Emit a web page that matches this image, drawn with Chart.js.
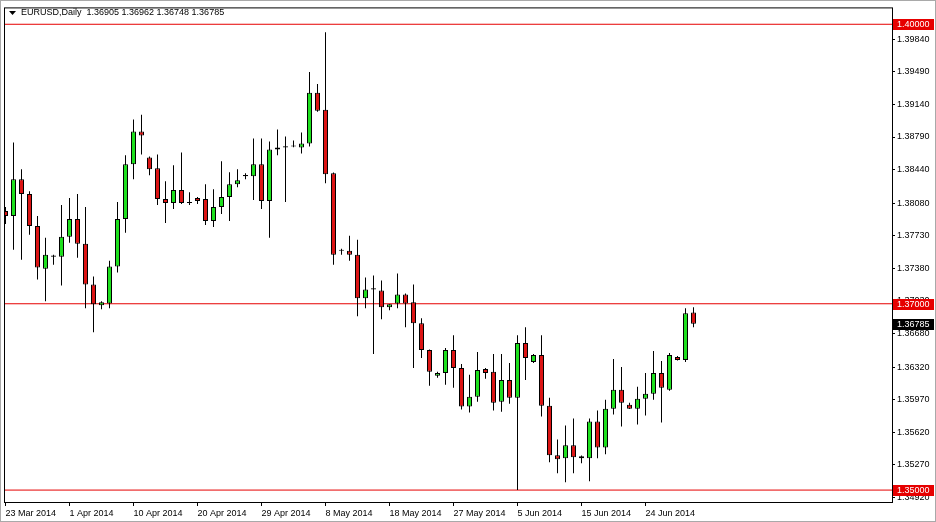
<!DOCTYPE html>
<html>
<head>
<meta charset="utf-8">
<title>EURUSD, Daily</title>
<script src="https://cdn.jsdelivr.net/npm/chart.js@4.4.1/dist/chart.umd.min.js"></script>
<style>
  html, body { margin: 0; padding: 0; background: #fff; }
  #wrap { width: 936px; height: 522px; }
</style>
</head>
<body>
<div id="wrap"><canvas id="eurusdChart" width="936" height="522"></canvas></div>
<script>
const symbolName = "EURUSD,Daily";

// daily bars, 23 Mar 2014 .. 27 Jun 2014 (index 0 = 23 Mar)
const openPrices = [
  1.37996, 1.37942, 1.38337, 1.38177, 1.37836, 1.37377, 1.37505, 1.37505, 1.37719, 1.37910,
  1.37644, 1.37207, 1.36983, 1.37004, 1.37399, 1.37910, 1.38497, 1.38849, 1.38571, 1.38454,
  1.38124, 1.38081, 1.38220, 1.38081, 1.38134, 1.38124, 1.37889, 1.38038, 1.38145, 1.38284,
  1.38369, 1.38369, 1.38497, 1.38102, 1.38657, 1.38678, 1.38687, 1.38678, 1.38721, 1.39264,
  1.39083, 1.38401, 1.37569, 1.37569, 1.37527, 1.37058, 1.37154, 1.37143, 1.36962, 1.37004,
  1.37100, 1.37015, 1.36791, 1.36503, 1.36226, 1.36258, 1.36503, 1.36311, 1.35896, 1.36002,
  1.36301, 1.36269, 1.35949, 1.36183, 1.35991, 1.36578, 1.36375, 1.36450, 1.35906, 1.35373,
  1.35341, 1.35480, 1.35362, 1.35341, 1.35736, 1.35458, 1.35874, 1.36077, 1.35917, 1.35874,
  1.35981, 1.36034, 1.36258, 1.36077, 1.36429, 1.36397, 1.36905
];
const highPrices = [
  1.38038, 1.38731, 1.38443, 1.38209, 1.37942, 1.37708, 1.37527, 1.38060, 1.38134, 1.38177,
  1.38038, 1.37292, 1.37026, 1.37463, 1.38092, 1.38593, 1.38977, 1.39030, 1.38580, 1.38603,
  1.38316, 1.38486, 1.38625, 1.38198, 1.38145, 1.38284, 1.38230, 1.38529, 1.38412, 1.38443,
  1.38401, 1.38774, 1.38774, 1.38742, 1.38870, 1.38795, 1.38753, 1.38838, 1.39488, 1.39360,
  1.39915, 1.38410, 1.37591, 1.37729, 1.37687, 1.37281, 1.37303, 1.37249, 1.36994, 1.37324,
  1.37110, 1.37207, 1.36844, 1.36510, 1.36269, 1.36525, 1.36663, 1.36354, 1.36237, 1.36482,
  1.36310, 1.36461, 1.36461, 1.36365, 1.36663, 1.36748, 1.36461, 1.36663, 1.35991, 1.35544,
  1.35693, 1.35768, 1.35370, 1.35768, 1.35853, 1.35970, 1.36407, 1.36322, 1.35938, 1.36109,
  1.36258, 1.36493, 1.36386, 1.36471, 1.36439, 1.36951, 1.36962
];
const lowPrices = [
  1.37857, 1.37580, 1.37473, 1.37740, 1.37260, 1.37026, 1.37420, 1.37196, 1.37655, 1.37495,
  1.36951, 1.36695, 1.36940, 1.36951, 1.37335, 1.37761, 1.38337, 1.38603, 1.38380, 1.38060,
  1.37868, 1.38017, 1.38070, 1.38060, 1.38070, 1.37846, 1.37825, 1.37964, 1.37889, 1.38252,
  1.38337, 1.38113, 1.38017, 1.37708, 1.38593, 1.38092, 1.38680, 1.38614, 1.38687, 1.39062,
  1.38294, 1.37420, 1.37527, 1.37463, 1.36866, 1.36951, 1.36461, 1.36834, 1.36930, 1.36951,
  1.36748, 1.36311, 1.36418, 1.36119, 1.36205, 1.36130, 1.36098, 1.35864, 1.35832, 1.35949,
  1.36194, 1.35853, 1.35842, 1.35928, 1.35000, 1.36183, 1.36365, 1.35789, 1.35298, 1.35181,
  1.35085, 1.35181, 1.35288, 1.35096, 1.35341, 1.35384, 1.35810, 1.35683, 1.35870, 1.35704,
  1.35800, 1.35970, 1.35725, 1.36066, 1.36390, 1.36375, 1.36748
];
const closePrices = [
  1.37942, 1.38337, 1.38177, 1.37836, 1.37388, 1.37527, 1.37517, 1.37719, 1.37910, 1.37644,
  1.37207, 1.36994, 1.37015, 1.37399, 1.37910, 1.38497, 1.38849, 1.38806, 1.38443, 1.38124,
  1.38081, 1.38220, 1.38081, 1.38093, 1.38102, 1.37889, 1.38038, 1.38145, 1.38284, 1.38326,
  1.38381, 1.38497, 1.38102, 1.38657, 1.38678, 1.38690, 1.38699, 1.38721, 1.39264, 1.39072,
  1.38390, 1.37527, 1.37581, 1.37527, 1.37058, 1.37154, 1.37166, 1.36962, 1.36994, 1.37100,
  1.37004, 1.36791, 1.36503, 1.36269, 1.36258, 1.36503, 1.36311, 1.35896, 1.36002, 1.36290,
  1.36258, 1.35938, 1.36183, 1.35991, 1.36578, 1.36418, 1.36450, 1.35906, 1.35373, 1.35330,
  1.35480, 1.35352, 1.35341, 1.35736, 1.35458, 1.35874, 1.36077, 1.35938, 1.35874, 1.35981,
  1.36034, 1.36258, 1.36098, 1.36450, 1.36397, 1.36898, 1.36785
];

const dateTickBars = [0, 8, 16, 24, 32, 40, 48, 56, 64, 72, 80];
const dateTickLabels = [
  "23 Mar 2014", "1 Apr 2014", "10 Apr 2014", "20 Apr 2014", "29 Apr 2014", "8 May 2014",
  "18 May 2014", "27 May 2014", "5 Jun 2014", "15 Jun 2014", "24 Jun 2014"
];
const priceTicks = [
  1.39840, 1.39490, 1.39140, 1.38790, 1.38440, 1.38080, 1.37730, 1.37380,
  1.37030, 1.36680, 1.36320, 1.35970, 1.35620, 1.35270, 1.34920
];
const levelPrices = [1.40000, 1.37000, 1.35000];

const FONT = "'Liberation Sans', Arial, sans-serif";
const BULL = "#1ee01e";
const BEAR = "#dc1414";
const LEVEL_RED = "#e60000";

// visible window of the terminal (bars and prices)
const X_MIN = -0.1875, X_MAX = 110.8125;
const Y_MIN = 1.348721, Y_MAX = 1.401812;

const barIndex = openPrices.map((_, i) => i);
const wickData = barIndex.map((i) => ({ x: i, y: [lowPrices[i], highPrices[i]] }));
const bodyData = barIndex.map((i) => ({ x: i, y: [openPrices[i], closePrices[i]] }));
const bodyColors = barIndex.map((i) => (closePrices[i] >= openPrices[i] ? BULL : BEAR));

const levelDatasets = levelPrices.map((p) => ({
  type: "line",
  data: [{ x: X_MIN, y: p }, { x: X_MAX, y: p }],
  borderColor: LEVEL_RED,
  borderWidth: 1,
  pointRadius: 0,
  order: 3,
}));

// frame, price tags and the symbol line, the way the terminal draws them
const terminalFrame = {
  id: "terminalFrame",
  beforeDraw(chart) {
    const { ctx, width, height } = chart;
    ctx.save();
    ctx.fillStyle = "#ffffff";
    ctx.fillRect(0, 0, width, height);
    ctx.restore();
  },
  afterDraw(chart) {
    const { ctx, chartArea: a, scales: { y } } = chart;
    ctx.save();
    ctx.lineWidth = 1;
    ctx.strokeStyle = "#000";
    ctx.strokeRect(a.left + 0.5, a.top + 0.5, a.right - a.left, a.bottom - a.top);
    ctx.strokeStyle = "#a9a9a9";
    ctx.strokeRect(0.5, 0.5, chart.width - 1, chart.height - 1);

    ctx.font = `9px ${FONT}`;
    ctx.textBaseline = "middle";
    const tag = (price, bg) => {
      const py = Math.round(y.getPixelForValue(price));
      ctx.fillStyle = bg;
      ctx.fillRect(a.right + 1, py - 5, 41, 11);
      ctx.fillStyle = "#fff";
      ctx.fillText(price.toFixed(5), a.right + 5, py + 0.5);
    };
    levelPrices.forEach((p) => tag(p, LEVEL_RED));
    tag(closePrices[closePrices.length - 1], "#000");

    const last = openPrices.length - 1;
    const ohlc = [openPrices[last], highPrices[last], lowPrices[last], closePrices[last]];
    ctx.fillStyle = "#000";
    ctx.beginPath();
    ctx.moveTo(9, 11);
    ctx.lineTo(16, 11);
    ctx.lineTo(12.5, 15);
    ctx.closePath();
    ctx.fill();
    ctx.fillText(`${symbolName}  ${ohlc.map((v) => v.toFixed(5)).join(" ")}`, 21, 13);
    ctx.restore();
  },
};

new Chart(document.getElementById("eurusdChart"), {
  type: "bar",
  data: {
    datasets: [
      {
        data: bodyData,
        backgroundColor: bodyColors,
        borderColor: "#000",
        borderWidth: 1,
        borderSkipped: false,
        barThickness: 5,
        grouped: false,
        inflateAmount: 0,
        order: 1,
      },
      {
        data: wickData,
        backgroundColor: "#000",
        borderWidth: 0,
        barThickness: 1,
        grouped: false,
        inflateAmount: 0,
        order: 2,
      },
      ...levelDatasets,
    ],
  },
  options: {
    responsive: false,
    maintainAspectRatio: false,
    devicePixelRatio: 1,
    animation: false,
    events: [],
    layout: { padding: { left: 4, top: 4, right: 0, bottom: 0 } },
    plugins: { legend: { display: false }, tooltip: { enabled: false } },
    scales: {
      x: {
        type: "linear",
        min: X_MIN,
        max: X_MAX,
        offset: false,
        afterBuildTicks: (scale) => { scale.ticks = dateTickBars.map((v) => ({ value: v })); },
        afterFit: (scale) => { scale.height = 20; },
        ticks: {
          autoSkip: false,
          maxRotation: 0,
          align: "start",
          padding: 2,
          color: "#000",
          font: { family: FONT, size: 9 },
          callback: (v, i) => dateTickLabels[i],
        },
        grid: { drawOnChartArea: false, drawTicks: true, tickLength: 4, color: "#000", offset: false },
        border: { display: false },
      },
      y: {
        type: "linear",
        position: "right",
        min: Y_MIN,
        max: Y_MAX,
        beginAtZero: false,
        afterBuildTicks: (scale) => { scale.ticks = priceTicks.map((v) => ({ value: v })); },
        afterFit: (scale) => { scale.width = 44; },
        ticks: {
          autoSkip: false,
          padding: 2,
          color: "#000",
          font: { family: FONT, size: 9 },
          callback: (v) => v.toFixed(5),
        },
        grid: { drawOnChartArea: false, drawTicks: true, tickLength: 3, color: "#000" },
        border: { display: false },
      },
    },
  },
  plugins: [terminalFrame],
});
</script>
</body>
</html>
